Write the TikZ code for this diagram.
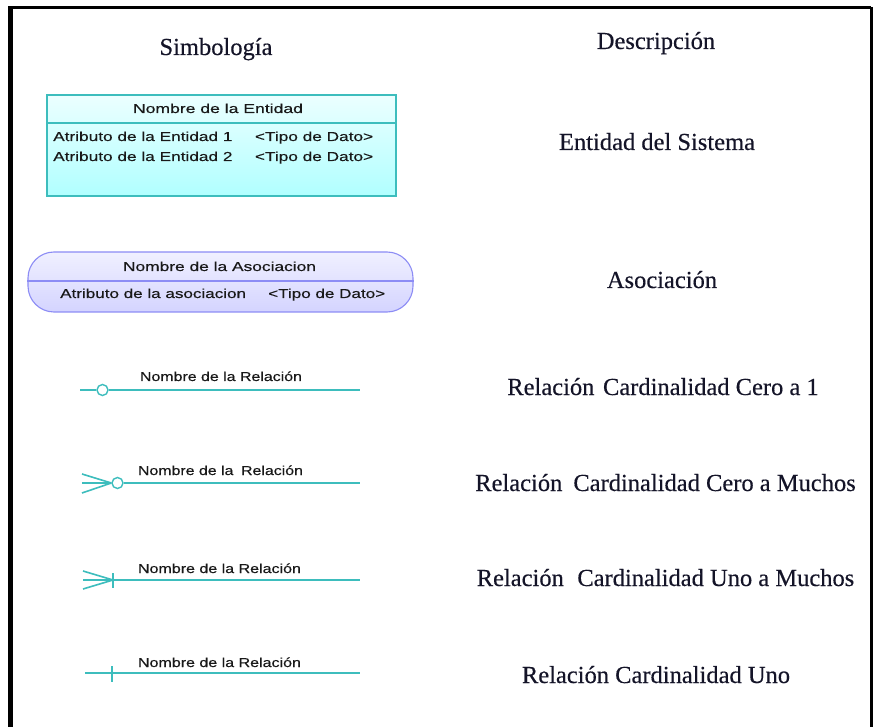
\documentclass[tikz,border=0pt]{standalone}
\usepackage{fontspec}
\usepackage{graphicx}
\setmainfont{Liberation Serif}
\newfontfamily\descf{Liberation Serif}[FakeBold=0.35]
\newfontfamily\sansf{Liberation Sans}[FakeBold=0.25]
\definecolor{tealc}{RGB}{61,189,189}
\definecolor{entTop}{RGB}{236,255,255}
\definecolor{entBot}{RGB}{176,255,255}
\definecolor{asoTop}{RGB}{240,240,255}
\definecolor{asoBot}{RGB}{212,212,255}
\definecolor{asoLine}{RGB}{140,140,245}
\definecolor{desc}{RGB}{20,20,40}
\definecolor{smalltxt}{RGB}{25,25,25}
\newcommand{\fitw}[2]{\resizebox{#1}{\height}{#2}}
\tikzset{
  frame/.style={black},
  entbox/.style={draw=tealc, line width=1.3pt, top color=entTop, bottom color=entBot, inner sep=0pt},
  asobox/.style={draw=asoLine, line width=1.1pt, top color=asoTop, bottom color=asoBot, rounded corners=26pt, inner sep=0pt},
  desctext/.style={font=\descf\fontsize{24.5}{28}\selectfont, text=desc, inner sep=0pt, anchor=base},
  smalltext/.style={font=\sansf\fontsize{13}{15}\selectfont, text=smalltxt, inner sep=0pt},
  rel/.style={draw=tealc, line width=1.6pt},
  circ/.style={circle, draw=tealc, line width=1.4pt, fill=white, minimum size=11pt, inner sep=0pt},
}
\begin{document}
\begin{tikzpicture}[x=1pt,y=-1pt]
\useasboundingbox (0,0) rectangle (873,727);
\fill[white] (0,0) rectangle (873,727);
% frame
\coordinate (fbl) at (10.8,727);
\coordinate (ftl) at (10.8,7.5);
\coordinate (ftr) at (871,7.5);
\coordinate (fbr) at (871,727);
\draw[frame, line width=5pt] (fbl) -- (ftl);
\draw[frame, line width=3pt] (8.3,7.5) -- (ftr);
\draw[frame, line width=3pt] (ftr) -- (fbr);
% headings
\node[desctext] (hsim) at (216,55) {Simbología};
\node[desctext] (hdes) at (656,49) {Descripción};
% entity
\node[entbox, minimum width=349pt, minimum height=101pt] (ent) at (221.5,145.5) {};
\coordinate (d1) at (0,123);
\draw[draw=tealc, line width=1.2pt] (ent.west |- d1) -- (ent.east |- d1);
\node[smalltext, anchor=base] (entn) at (218,113) {\fitw{170pt}{Nombre de la Entidad}};
\node[smalltext, anchor=base west] (enta1) at (53,141) {\fitw{320pt}{Atributo de la Entidad 1\hspace{1.3em}<Tipo de Dato>}};
\node[smalltext, anchor=base west] (enta2) at (53,161) {\fitw{320pt}{Atributo de la Entidad 2\hspace{1.3em}<Tipo de Dato>}};
\node[desctext] (dent) at (657,150) {Entidad del Sistema};
% association
\node[asobox, minimum width=385pt, minimum height=60pt] (aso) at (220.5,282) {};
\coordinate (d2) at (0,281);
\draw[draw=asoLine, line width=1.1pt] (aso.west |- d2) -- (aso.east |- d2);
\node[smalltext, anchor=base] (ason) at (219.5,271) {\fitw{193pt}{Nombre de la Asociacion}};
\node[smalltext, anchor=base west] (asoa) at (60,298) {\fitw{325pt}{Atributo de la asociacion\hspace{1.3em}<Tipo de Dato>}};
\node[desctext] (daso) at (662,288) {Asociación};
% relation 1: zero to one
\coordinate (r1a) at (80,390);
\coordinate (r1b) at (360,390);
\node[circ] (r1c) at (102.5,390) {};
\draw[rel] (r1a) -- (r1c.west) (r1c.east) -- (r1b);
\node[smalltext, anchor=base] (r1l) at (221,381) {\fitw{162pt}{Nombre de la Relación}};
\node[desctext] (dr1) at (663,395) {Relación\hspace{0.1em} Cardinalidad Cero a 1};
% relation 2: zero to many
\coordinate (r2a) at (82,483);
\coordinate (r2b) at (360,483);
\coordinate (r2u) at (82,474);
\coordinate (r2d) at (82,493);
\node[circ] (r2c) at (117.5,483) {};
\draw[rel] (r2a) -- (r2c.west) (r2c.east) -- (r2b);
\draw[rel] (r2u) -- (r2c.west) (r2d) -- (r2c.west);
\node[smalltext, anchor=base] (r2l) at (220.5,475) {\fitw{165pt}{Nombre de la\hspace{0.2em} Relación}};
\node[desctext] (dr2) at (665.5,491) {Relación\hspace{0.2em} Cardinalidad Cero a Muchos};
% relation 3: one to many
\coordinate (r3a) at (83,580);
\coordinate (r3b) at (360,580);
\coordinate (r3u) at (83,571);
\coordinate (r3d) at (83,589);
\coordinate (r3m) at (113,580);
\coordinate (r3t) at (113,573);
\coordinate (r3s) at (113,588);
\draw[rel] (r3a) -- (r3b);
\draw[rel] (r3u) -- (r3m) (r3d) -- (r3m);
\draw[rel] (r3t) -- (r3s);
\node[smalltext, anchor=base] (r3l) at (219.5,573) {\fitw{163pt}{Nombre de la Relación}};
\node[desctext] (dr3) at (665.5,586) {Relación\hspace{0.3em} Cardinalidad Uno a Muchos};
% relation 4: one
\coordinate (r4a) at (85,673);
\coordinate (r4b) at (360,673);
\coordinate (r4t) at (112,666);
\coordinate (r4s) at (112,682);
\draw[rel] (r4a) -- (r4b);
\draw[rel] (r4t) -- (r4s);
\node[smalltext, anchor=base] (r4l) at (219.5,667) {\fitw{163pt}{Nombre de la Relación}};
\node[desctext] (dr4) at (656,683) {Relación Cardinalidad Uno};
\end{tikzpicture}
\end{document}
